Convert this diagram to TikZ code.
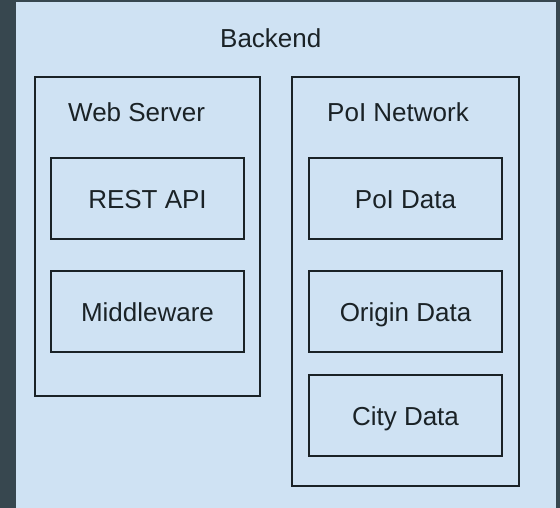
\documentclass[tikz,border=0pt]{standalone}
\usepackage{fontspec}
\setmainfont{Liberation Sans}
\definecolor{slate}{HTML}{37474F}
\definecolor{paleblue}{HTML}{CFE2F3}
\definecolor{ink}{HTML}{1A2226}

\begin{document}
\begin{tikzpicture}[x=1pt,y=-1pt,
  labelfont/.style={font=\fontsize{26}{30}\selectfont, text=ink, inner sep=0pt},
  container/.style={draw=ink, line width=1.6pt, rectangle, inner sep=0pt},
  comp/.style={container, labelfont, minimum width=193pt, minimum height=81pt,
    text height=19pt, text depth=0pt}]
  % page background and backend panel
  \fill[slate] (0,0) rectangle (560,508);
  \useasboundingbox (0,0) rectangle (560,508);
  \node[fill=paleblue, inner sep=0pt, minimum width=540pt, minimum height=506pt]
    (backend) at (286,255) {};
  \node[labelfont, anchor=base west] (backendlbl) at (220,47.5) {Backend};

  % web server group
  \node[container, minimum width=225pt, minimum height=319pt] (web) at (147.5,236.5) {};
  \node[labelfont, anchor=base west] (weblbl) at (68,122) {Web Server};
  \node[comp] (rest) at (147.5,198.5) {REST API};
  \node[comp] (mid) at (147.5,311.5) {Middleware};

  % point-of-interest network group
  \node[container, minimum width=227pt, minimum height=409pt] (poi) at (405.5,281.5) {};
  \node[labelfont, anchor=base west] (poilbl) at (327,122) {PoI Network};
  \node[comp] (poidata) at (405.5,198.5) {PoI Data};
  \node[comp] (origin) at (405.5,311.5) {Origin Data};
  \node[comp] (city) at (405.5,415.5) {City Data};
\end{tikzpicture}
\end{document}
